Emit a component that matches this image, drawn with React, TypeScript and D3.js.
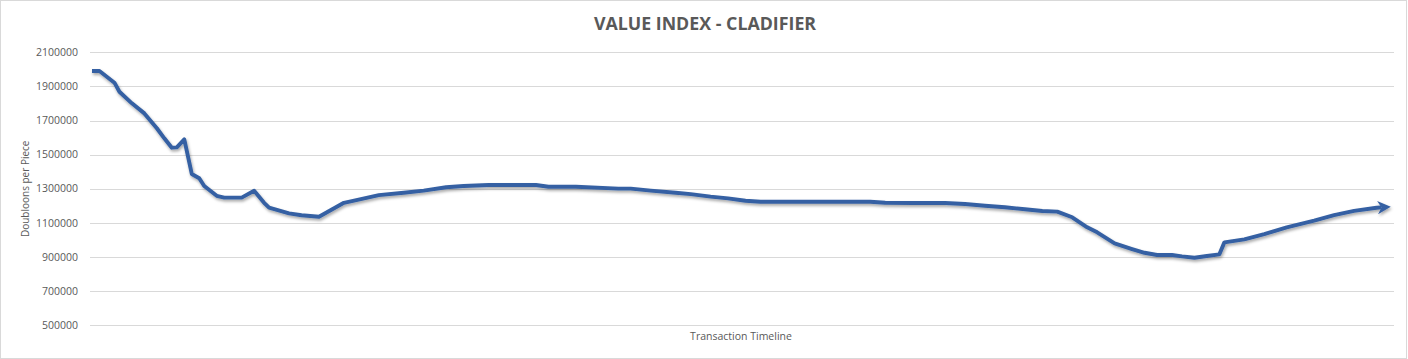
import React from "react";
import * as d3 from "d3";

const title = "VALUE INDEX - CLADIFIER";
const yAxisTitle = "Doubloons per Piece";
const xAxisTitle = "Transaction Timeline";

const yTicks = [500000, 700000, 900000, 1100000, 1300000, 1500000, 1700000, 1900000, 2100000];

// position along the transaction timeline (relative units)
const timeline = [
  0, 3, 9, 11, 16, 21, 26, 29, 32, 34, 37, 40, 43, 45, 50, 53, 60, 65, 69, 71,
  79, 84, 91, 101, 106, 115, 125, 133, 142, 149, 159, 178, 183, 194, 211, 216,
  224, 234, 240, 248, 255, 262, 268, 312, 318, 329, 342, 350, 358, 366, 374,
  381, 387, 393, 399, 403, 410, 417, 422, 427, 433, 437, 442, 447, 452, 454,
  462, 470, 479, 490, 498, 506, 515, 517,
];

const values = [
  1990000, 1990000, 1922000, 1869000, 1801000, 1742000, 1655000, 1596000, 1541000, 1543000,
  1590000, 1387000, 1362000, 1316000, 1259000, 1248000, 1248000, 1289000, 1218000, 1189000,
  1156000, 1145000, 1136000, 1218000, 1234000, 1263000, 1277000, 1289000, 1309000, 1316000,
  1322000, 1322000, 1312000, 1312000, 1301000, 1301000, 1289000, 1277000, 1269000, 1254000,
  1244000, 1230000, 1224000, 1224000, 1218000, 1217000, 1217000, 1211000, 1201000, 1192000,
  1180000, 1170000, 1166000, 1133000, 1074000, 1045000, 980000, 947000, 925000, 912000,
  912000, 904000, 896000, 906000, 916000, 986000, 1004000, 1035000, 1074000, 1113000,
  1146000, 1171000, 1189000, 1191000,
];

const W = 1408;
const H = 359;
const plot = { left: 90, right: 1394, top: 52.3, bottom: 325.3 };
const FONT = "'Open Sans', 'Noto Sans', sans-serif";
const TEXT = "#595959";
const GRID = "#d9d9d9";
const LINE = "#3560a3";

export default function App() {
  const x = d3.scaleLinear().domain([0, 520]).range([92, 1389]);
  const y = d3.scaleLinear().domain([500000, 2100000]).range([plot.bottom, plot.top]);
  const pts = timeline.map((t, i) => [t, values[i]] as [number, number]);
  const line = d3
    .line<[number, number]>()
    .x((d) => x(d[0]))
    .y((d) => y(d[1]))
    .curve(d3.curveLinear);

  return (
    <svg
      width={W}
      height={H}
      style={{ position: "absolute", left: 0, top: 0, background: "#fff" }}
      fontFamily={FONT}
    >
      <defs>
        <filter id="shadow" x="-5%" y="-20%" width="110%" height="140%">
          <feDropShadow dx="1" dy="2" stdDeviation="1.4" floodColor="#000" floodOpacity="0.35" />
        </filter>
        <marker
          id="arrow"
          viewBox="0 0 10 10"
          refX="3"
          refY="5"
          markerWidth="3.4"
          markerHeight="3.4"
          orient="auto"
          markerUnits="strokeWidth"
        >
          <path d="M0,0 L10,5 L0,10 L3,5 Z" fill={LINE} />
        </marker>
      </defs>
      <rect x={0.5} y={0.5} width={1406} height={358} fill="#fff" stroke={GRID} />
      <text
        x={705}
        y={30}
        textAnchor="middle"
        fontSize={17.8}
        fontWeight={700}
        fill={TEXT}
      >
        {title}
      </text>
      {yTicks.map((v) => (
        <g key={v}>
          <line
            x1={plot.left}
            x2={plot.right}
            y1={Math.round(y(v)) + 0.5}
            y2={Math.round(y(v)) + 0.5}
            stroke={GRID}
            strokeWidth={1}
          />
          <text
            x={78}
            y={y(v)}
            dy="0.35em"
            textAnchor="end"
            fontSize={10.5}
            fill={TEXT}
          >
            {String(v)}
          </text>
        </g>
      ))}
      <text
        transform={`translate(29,${(plot.top + plot.bottom) / 2}) rotate(-90)`}
        textAnchor="middle"
        fontSize={10}
        fill={TEXT}
      >
        {yAxisTitle}
      </text>
      <text x={741} y={339.5} textAnchor="middle" fontSize={10.5} fill={TEXT}>
        {xAxisTitle}
      </text>
      <path
        d={line(pts) || ""}
        fill="none"
        stroke={LINE}
        strokeWidth={3.9}
        strokeLinejoin="round"
        strokeLinecap="butt"
        markerEnd="url(#arrow)"
        filter="url(#shadow)"
      />
    </svg>
  );
}
